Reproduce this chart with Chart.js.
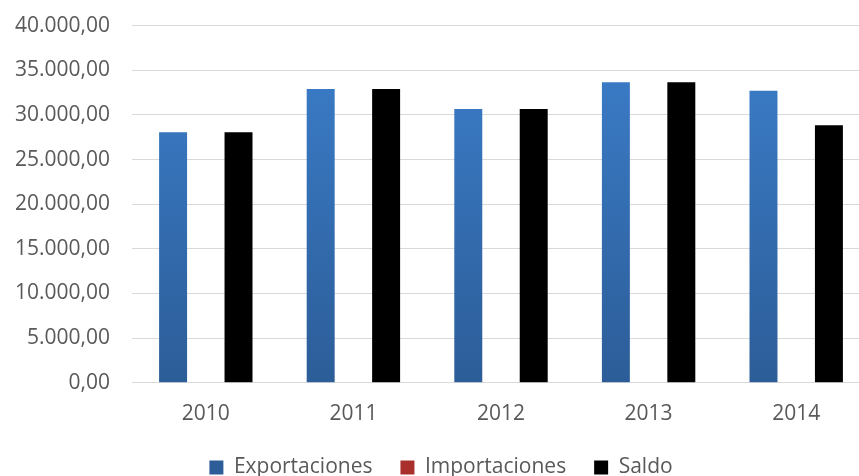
<!DOCTYPE html>
<html>
<head>
<meta charset="utf-8">
<script src="https://cdn.jsdelivr.net/npm/chart.js@4"></script>
<style>
  html, body { margin: 0; padding: 0; background: #fff; overflow: hidden; }
  #wrap { width: 876px; height: 497px; margin-top: -9px; }
</style>
</head>
<body>
<div id="wrap"><canvas id="chart" width="876" height="497"></canvas></div>
<script>
// Chart data
const years = ['2010', '2011', '2012', '2013', '2014'];
const exportaciones = [28050, 32900, 30650, 33650, 32700];
const importaciones = [0, 0, 0, 0, 0];
const saldo = [28050, 32900, 30650, 33650, 28850];

// 40000 -> "40.000,00"
function formatNumber(v) {
    let parts = Math.abs(v).toFixed(2).split('.');
    let intPart = parts[0].replace(/\B(?=(\d{3})+(?!\d))/g, '.');
    return (v < 0 ? '-' : '') + intPart + ',' + parts[1];
}

function verticalGradient(top, bottom) {
    return function(context) {
        const chart = context.chart;
        const area = chart.chartArea;
        if (!area) return bottom;
        const g = chart.ctx.createLinearGradient(0, area.top, 0, area.bottom);
        g.addColorStop(0, top);
        g.addColorStop(1, bottom);
        return g;
    };
}

Chart.defaults.font.family = '"Open Sans", sans-serif';
Chart.defaults.font.size = 21;
Chart.defaults.color = '#595959';

new Chart(document.getElementById('chart').getContext('2d'), {
    type: 'bar',
    data: {
        labels: years,
        datasets: [{
            label: 'Exportaciones',
            data: exportaciones,
            backgroundColor: verticalGradient('#3c7fcc', '#2c5d98'),
            borderWidth: 0
        }, {
            label: 'Importaciones',
            data: importaciones,
            backgroundColor: verticalGradient('#d0403c', '#a82f2c'),
            borderWidth: 0
        }, {
            label: 'Saldo',
            data: saldo,
            backgroundColor: '#000000',
            borderWidth: 0
        }]
    },
    options: {
        responsive: false,
        animation: false,
        barPercentage: 0.855,
        categoryPercentage: 0.665,
        layout: { padding: { top: 3, right: 6, left: 12, bottom: 0 } },
        plugins: {
            tooltip: { enabled: false },
            legend: {
                position: 'bottom',
                labels: {
                    boxWidth: 14,
                    boxHeight: 14,
                    padding: 28,
                    font: { size: 21 }
                }
            }
        },
        scales: {
            x: {
                grid: { display: false, drawTicks: false },
                border: { color: '#d9d9d9', width: 1 },
                ticks: { padding: 19 },
                // pull the legend closer to the year labels
                afterFit: (scale) => { scale.height -= 17; }
            },
            y: {
                min: 0,
                max: 40000,
                grid: { color: '#d9d9d9', lineWidth: 1, drawTicks: false },
                border: { display: false },
                ticks: {
                    stepSize: 5000,
                    padding: 22,
                    callback: (v) => formatNumber(v)
                },
                afterFit: (scale) => { scale.width -= 19; }
            }
        }
    }
});
</script>
</body>
</html>
